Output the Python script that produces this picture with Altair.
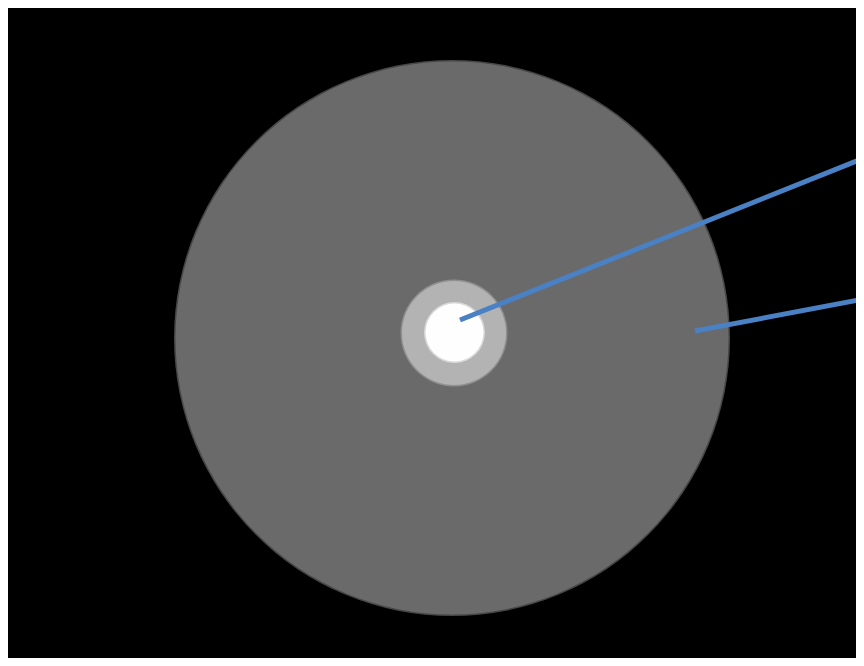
import altair as alt
import pandas as pd

# Disc layers (centre x, centre y, radius in picture pixels, grey colour)
disc_names = ["disc halo", "outer disc", "ring halo", "ring", "core halo", "core"]
disc_cx = [452, 452, 454, 454, 454.5, 454.5]
disc_cy = [338, 338, 333, 333, 332.5, 332.5]
disc_r = [278, 276.5, 53.5, 52, 30.5, 29]
disc_color = ["#474747", "#6a6a6a", "#8f8f8f", "#b3b3b3", "#d9d9d9", "#fefefe"]

# Pointer lines (start and end in picture pixels)
line_x1 = [460, 695]
line_y1 = [320, 331]
line_x2 = [864, 864]
line_y2 = [158, 299]

W, H = 848, 650
X0, Y0 = 8, 8

discs = pd.DataFrame({
    "name": disc_names, "cx": disc_cx, "cy": disc_cy,
    "size": [(2 * r) ** 2 for r in disc_r], "color": disc_color,
    "order": list(range(len(disc_names))),
})
lines = pd.DataFrame({"x1": line_x1, "y1": line_y1, "x2": line_x2, "y2": line_y2})

xs = alt.Scale(domain=[X0, X0 + W], range=[0, W], nice=False, zero=False)
ys = alt.Scale(domain=[Y0, Y0 + H], range=[0, H], nice=False, zero=False)

circ = alt.Chart(discs).mark_circle(opacity=1).encode(
    x=alt.X("cx:Q", scale=xs, axis=None),
    y=alt.Y("cy:Q", scale=ys, axis=None),
    size=alt.Size("size:Q", scale=None, legend=None),
    color=alt.Color("color:N", scale=None, legend=None),
    order=alt.Order("order:Q"),
)

rules = alt.Chart(lines).mark_rule(color="#4a80c4", strokeWidth=5, strokeCap="butt").encode(
    x=alt.X("x1:Q", scale=xs, axis=None),
    y=alt.Y("y1:Q", scale=ys, axis=None),
    x2="x2:Q",
    y2="y2:Q",
)

chart = alt.layer(circ, rules).properties(
    width=W, height=H, padding=0, autosize=alt.AutoSizeParams(type="none"),
    background="white",
).configure_view(fill="black", stroke=None, clip=True)

chart.save("out.html", embed_options={"renderer": "svg", "actions": False})
